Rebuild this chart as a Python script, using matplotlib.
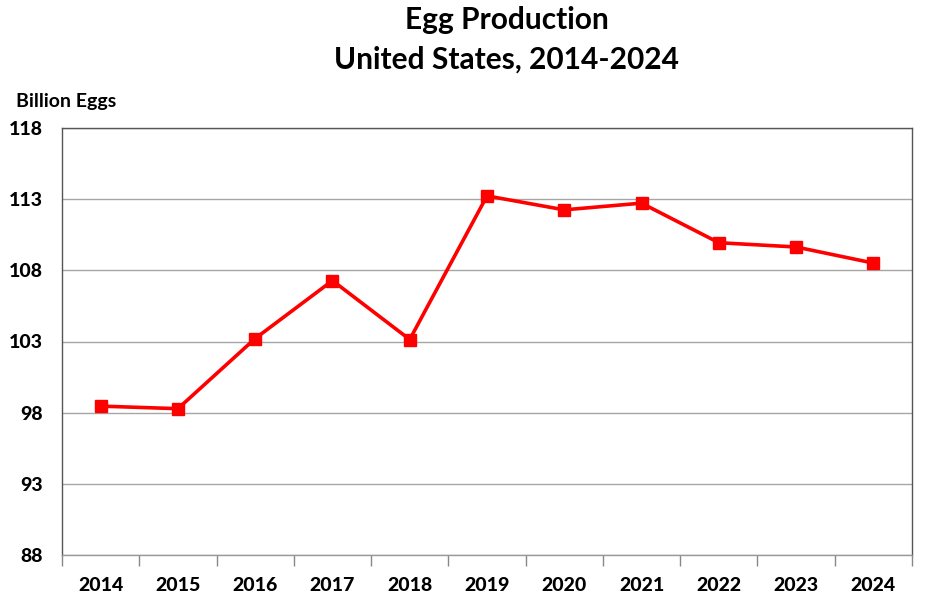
import matplotlib
matplotlib.use("Agg")
import matplotlib.pyplot as plt
import numpy as np

years = ["2014", "2015", "2016", "2017", "2018", "2019", "2020", "2021", "2022", "2023", "2024"]
production = [98.46, 98.28, 103.21, 107.28, 103.14, 113.23, 112.25, 112.72, 109.94, 109.64, 108.51]
y_ticks = [88, 93, 98, 103, 108, 113, 118]

plt.rcParams['font.family'] = ['Lato', 'DejaVu Sans']

fig = plt.figure(figsize=(9.31, 6.07), dpi=100)
ax = fig.add_axes([62/931, 1-555/607, (912-62)/931, (555-128)/607])

x = np.arange(len(years))
ax.plot(x, production, color='#ff0000', lw=2.6, marker='s', markersize=8.5, zorder=3)

ax.set_xlim(-0.5, len(years)-0.5)
ax.set_ylim(88, 118)
ax.set_yticks(y_ticks)
ax.set_yticklabels([str(v) for v in y_ticks], fontsize=14, fontweight='black')
ax.set_xticks(x)
ax.set_xticklabels(years, fontsize=14, fontweight='black')
ax.set_xticks(np.arange(-0.5, len(years), 1), minor=True)
ax.tick_params(axis='x', which='major', length=0, pad=16)
ax.tick_params(axis='x', which='minor', length=8, width=1, color='#888888', direction='out')
ax.tick_params(axis='y', length=0, pad=14)
ax.yaxis.grid(True, color='#a6a6a6', lw=1)
ax.set_axisbelow(True)
for s in ax.spines.values():
    s.set_color('#555555')
    s.set_linewidth(1)
ax.spines['bottom'].set_color('#999999')

fig.text(507/931, 1-20/607, "Egg Production", ha='center', va='center', fontsize=21.5, fontweight='bold')
fig.text(507/931, 1-60/607, "United States, 2014-2024", ha='center', va='center', fontsize=21.5, fontweight='bold')
fig.text(16/931, 1-101/607, "Billion Eggs", ha='left', va='center', fontsize=14, fontweight='bold')

fig.savefig("out.png", dpi=100)
